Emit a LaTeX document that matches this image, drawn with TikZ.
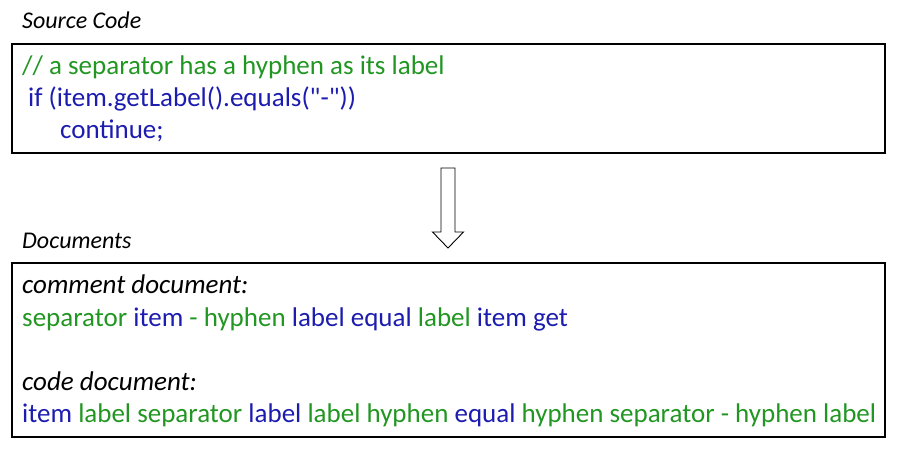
\documentclass[tikz,border=0pt]{standalone}
\usepackage{fontspec}
\setmainfont{Carlito}[Ligatures=TeXOff]
\definecolor{cgreen}{RGB}{34,150,34}
\definecolor{cblue}{RGB}{28,28,175}
\begin{document}
\begin{tikzpicture}[x=1pt,y=-1pt,
  txt/.style={anchor=base west,inner sep=0pt,font=\fontsize{27}{32}\selectfont},
  head/.style={anchor=base west,inner sep=0pt,font=\fontsize{24}{29}\selectfont\itshape},
  frame/.style={draw=black,line width=1.3pt},
  arr/.style={draw=black,line width=0.9pt,fill=white}]
\useasboundingbox (0,0) rectangle (901,455);
\node[head] (srclbl) at (22,28) {Source Code};
\draw[frame] (12,44) rectangle (885,153);
\node[txt,text=cgreen] (l1) at (22,74) {// a separator has a hyphen as its label};
\node[txt,text=cblue] (l2) at (28,106) {if (item.getLabel().equals("-"))};
\node[txt,text=cblue] (l3) at (60,138) {continue;};
\draw[arr] (441,168) -- (455,168) -- (455,232) -- (463.5,232) -- (448,248) -- (432.5,232) -- (441,232) -- cycle;
\node[head] (doclbl) at (22,248) {Documents};
\draw[frame] (12,263) rectangle (885,437);
\node[txt,font=\fontsize{27}{32}\selectfont\itshape] (c1) at (22,293) {comment document:};
\node[txt] (c2) at (22,326) {\textcolor{cgreen}{separator} \textcolor{cblue}{item} \textcolor{cgreen}{- hyphen} \textcolor{cblue}{label equal} \textcolor{cgreen}{label} \textcolor{cblue}{item get}};
\node[txt,font=\fontsize{27}{32}\selectfont\itshape] (d1) at (22,390) {code document:};
\node[txt] (d2) at (22,422) {\textcolor{cblue}{item} \textcolor{cgreen}{label separator} \textcolor{cblue}{label} \textcolor{cgreen}{label hyphen} \textcolor{cblue}{equal} \textcolor{cgreen}{hyphen separator - hyphen label}};
\end{tikzpicture}
\end{document}
